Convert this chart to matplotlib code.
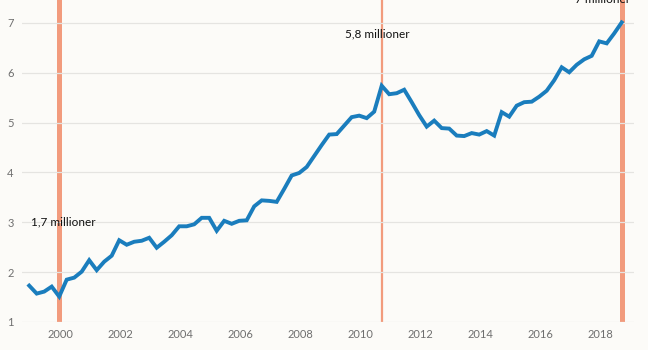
import matplotlib
matplotlib.use("Agg")
import matplotlib.pyplot as plt
import numpy as np

start_year = 1999
values = [1.73, 1.57, 1.61, 1.71, 1.51, 1.85, 1.89, 2.01,
          2.24, 2.04, 2.21, 2.33, 2.64, 2.55, 2.61, 2.63,
          2.69, 2.49, 2.61, 2.74, 2.92, 2.92, 2.96, 3.09,
          3.09, 2.83, 3.03, 2.97, 3.03, 3.04, 3.32, 3.44,
          3.43, 3.41, 3.67, 3.94, 3.99, 4.11, 4.33, 4.55,
          4.76, 4.77, 4.94, 5.11, 5.14, 5.09, 5.22, 5.74,
          5.57, 5.59, 5.66, 5.41, 5.15, 4.92, 5.04, 4.89,
          4.88, 4.74, 4.73, 4.79, 4.76, 4.83, 4.74, 5.21,
          5.12, 5.34, 5.41, 5.42, 5.52, 5.64, 5.85, 6.11,
          6.01, 6.16, 6.27, 6.34, 6.63, 6.59, 6.79, 7.01]
marker_idx = [4, 47, 79]
marker_widths = [3.6, 1.6, 3.6]
marker_labels = ["1,7 millioner", "5,8 millioner", "7 millioner"]
label_pos = [(2000.1, 3.0), (2010.57, 6.78), (2018.07, 7.47)]
yticks = [1, 2, 3, 4, 5, 6, 7]
xticks = list(range(2000, 2019, 2))

t = start_year + np.arange(len(values)) * 0.25 - 0.03

bg = "#fcfbf8"
plt.rcParams['font.family'] = ['Lato', 'DejaVu Sans']
fig = plt.figure(figsize=(6.48, 3.5), dpi=100, facecolor=bg)
ax = fig.add_axes([22/648, 28/350, (634-22)/648, 322/350])
ax.set_facecolor(bg)

for i, w in zip(marker_idx, marker_widths):
    ax.plot([t[i], t[i]], [1, 7.5], color="#f29b7d", lw=w, zorder=1, solid_capstyle="butt")

for y in yticks:
    ax.axhline(y, color="#e5e4e1", lw=0.9, zorder=2)

ax.plot(t, values, color="#1a7dbd", lw=2.8, zorder=3, solid_joinstyle="miter")

for lab, (x, y) in zip(marker_labels, label_pos):
    ax.text(x, y, lab, ha="center", va="center", fontsize=8.5, color="#111111", zorder=4)

ax.set_xlim(1998.73, 2019.13)
ax.set_ylim(1, 7.46)
ax.set_yticks(yticks)
ax.set_xticks(xticks)
ax.set_xticklabels([str(x) for x in xticks])
ax.tick_params(length=0, labelsize=8, labelcolor="#6f6f6f", pad=5)
ax.tick_params(axis="y", pad=6)
for s in ax.spines.values():
    s.set_visible(False)

fig.savefig("out.png", dpi=100, facecolor=bg)
